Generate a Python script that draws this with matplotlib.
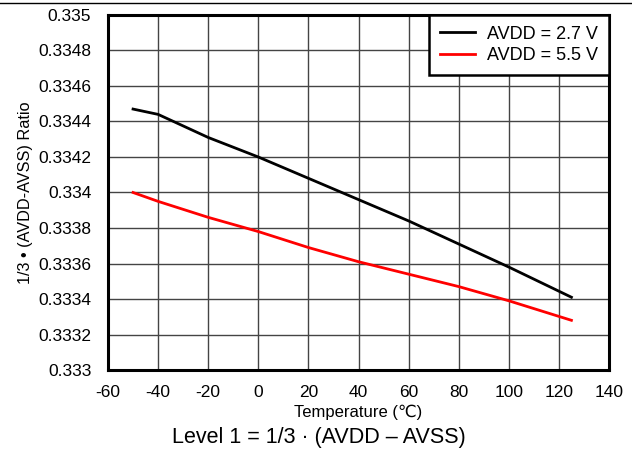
import matplotlib
matplotlib.use('Agg')
from matplotlib import pyplot as plt
from matplotlib.lines import Line2D

temps = [-50, -40, -20, 0, 20, 40, 60, 80, 100, 125]
ratio_27v = [0.33447, 0.33444, 0.33431, 0.33420, 0.33408,
             0.33396, 0.33384, 0.33371, 0.33358, 0.33341]
ratio_55v = [0.33400, 0.33395, 0.33386, 0.33378, 0.33369,
             0.33361, 0.33354, 0.33347, 0.33339, 0.33328]
x_ticks = [-60, -40, -20, 0, 20, 40, 60, 80, 100, 120, 140]
y_ticks = [0.333, 0.3332, 0.3334, 0.3336, 0.3338, 0.334,
           0.3342, 0.3344, 0.3346, 0.3348, 0.335]
y_labels = ['0.333', '0.3332', '0.3334', '0.3336', '0.3338', '0.334',
            '0.3342', '0.3344', '0.3346', '0.3348', '0.335']

plt.rcParams['font.family'] = ['Liberation Sans', 'DejaVu Sans']
plt.rcParams['axes.unicode_minus'] = False

fig = plt.figure(figsize=(6.32, 4.54), dpi=100)
ax = fig.add_axes([0.1709, 0.185, 0.7927, 0.782])

ax.plot(temps, ratio_27v, color='black', lw=2, label='AVDD = 2.7 V')
ax.plot(temps, ratio_55v, color='#ff0000', lw=2, label='AVDD = 5.5 V')

ax.set_xlim(-60, 140)
ax.set_ylim(0.333, 0.335)
ax.set_xticks(x_ticks)
ax.set_yticks(y_ticks)
ax.set_yticklabels(y_labels)
ax.tick_params(length=0, labelsize=12.5)
ax.tick_params(axis='y', pad=12)
ax.tick_params(axis='x', pad=11)
ax.grid(True, color='#444444', lw=1)
ax.set_axisbelow(True)
for s in ax.spines.values():
    s.set_linewidth(2.2)

ax.set_xlabel('Temperature (\u2103)', fontsize=12, labelpad=3)
ax.set_ylabel('1/3 \u2022 (AVDD-AVSS) Ratio', fontsize=11.7, labelpad=4)

leg = ax.legend(loc='upper right', fontsize=13, frameon=True, fancybox=False,
                borderaxespad=0, handlelength=1.9, handletextpad=0.7,
                labelspacing=0.25, borderpad=0.6)
leg.get_frame().set_edgecolor('black')
leg.get_frame().set_linewidth(1.8)
leg.get_frame().set_alpha(1)

fig.text(0.505, 0.025, 'Level 1 = 1/3 \u00b7 (AVDD \u2013 AVSS)', fontsize=15.5,
         ha='center', va='baseline')
fig.add_artist(Line2D([0, 1], [0.993, 0.993], color='black', lw=1,
                      transform=fig.transFigure))

fig.savefig('out.png', dpi=100)
